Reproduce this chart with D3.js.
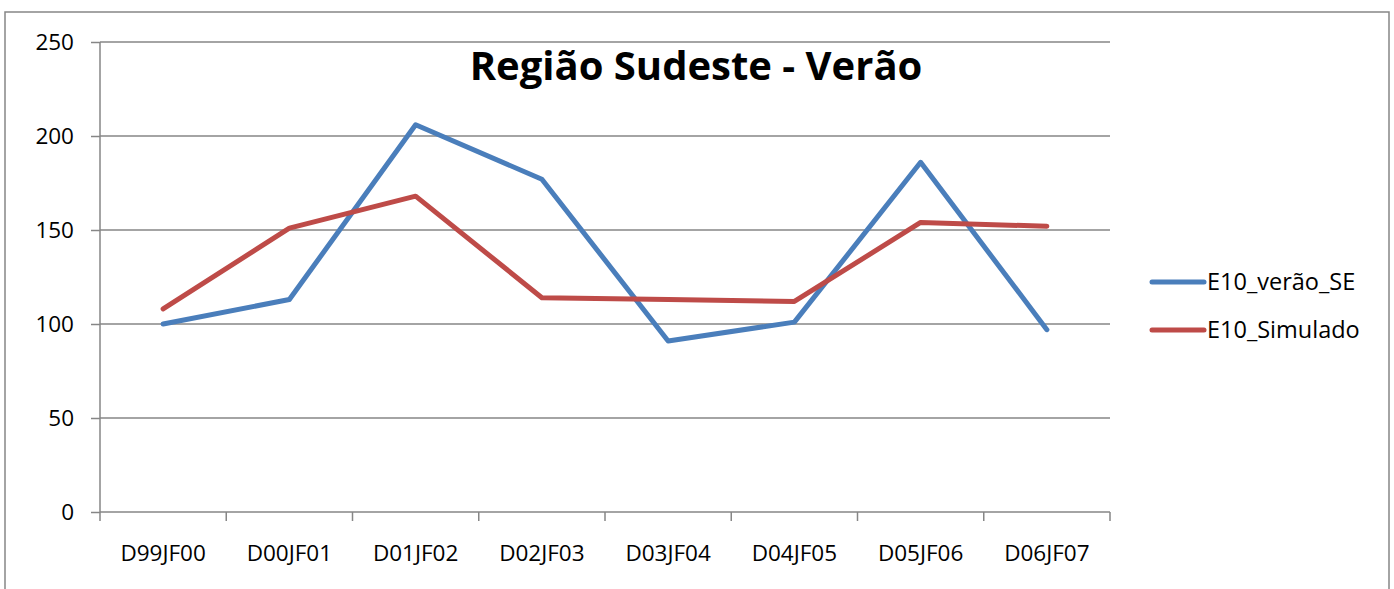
<!DOCTYPE html>
<html>
<head>
  <script src="https://d3js.org/d3.v7.min.js"></script>
  <style>
    body { margin: 0; background: #fff; font-family: "Open Sans", Arial, sans-serif; }
    .grid line { stroke: #868686; stroke-width: 1.5px; }
    .axis path, .axis line { stroke: #868686; stroke-width: 1.5px; }
    .axis text { font-size: 22.5px; font-family: "Open Sans", Arial, sans-serif; fill: #000; }
  </style>
</head>
<body>
  <svg width="1394" height="589"></svg>
  <script>
    const width = 1394, height = 589;

    const categories = ["D99JF00", "D00JF01", "D01JF02", "D02JF03", "D03JF04", "D04JF05", "D05JF06", "D06JF07"];
    const observed = [100, 113, 206, 177, 91, 101, 186, 97];
    const simulated = [108, 151, 168, 114, 113, 112, 154, 152];
    const yTicks = [0, 50, 100, 150, 200, 250];

    const series = [
      { name: "E10_verão_SE", values: observed, color: "#4a7ebb" },
      { name: "E10_Simulado", values: simulated, color: "#be4b48" }
    ];

    const margin = { left: 100, right: 284, top: 42, bottom: 77 };

    const svg = d3.select("svg")
      .attr("width", width)
      .attr("height", height);

    // outer chart border
    svg.append("rect")
      .attr("x", 5).attr("y", 12)
      .attr("width", 1384).attr("height", 590)
      .attr("fill", "none")
      .attr("stroke", "#868686")
      .attr("stroke-width", 1.5);

    const x = d3.scaleBand()
      .domain(categories)
      .range([margin.left, width - margin.right]);

    const y = d3.scaleLinear()
      .domain([0, 250])
      .range([height - margin.bottom, margin.top]);

    // gridlines
    svg.append("g")
      .attr("class", "grid")
      .selectAll("line")
      .data(yTicks.filter(d => d > 0))
      .enter().append("line")
      .attr("x1", margin.left)
      .attr("x2", width - margin.right)
      .attr("y1", d => y(d))
      .attr("y2", d => y(d));

    // y axis
    const yAxis = svg.append("g")
      .attr("class", "axis")
      .attr("transform", `translate(${margin.left},0)`)
      .call(d3.axisLeft(y).tickValues(yTicks).tickSize(9).tickPadding(17).tickSizeOuter(0));
    yAxis.attr("font-size", null).attr("font-family", null);
    yAxis.select(".domain").attr("d", `M0,${y(0)}V${y(250)}`);

    // x axis with ticks at band boundaries
    const xAxisG = svg.append("g")
      .attr("class", "axis")
      .attr("transform", `translate(0,${y(0)})`);
    xAxisG.append("line")
      .attr("x1", margin.left).attr("x2", width - margin.right)
      .attr("y1", 0).attr("y2", 0);
    const bounds = categories.map(c => x(c)).concat([width - margin.right]);
    xAxisG.selectAll(".tk")
      .data(bounds)
      .enter().append("line")
      .attr("class", "tk")
      .attr("x1", d => d).attr("x2", d => d)
      .attr("y1", 0).attr("y2", 9);
    xAxisG.selectAll("text")
      .data(categories)
      .enter().append("text")
      .attr("x", d => x(d) + x.bandwidth() / 2)
      .attr("y", 49)
      .attr("text-anchor", "middle")
      .text(d => d);

    // lines
    const line = d3.line()
      .x((d, i) => x(categories[i]) + x.bandwidth() / 2)
      .y(d => y(d));

    svg.selectAll(".series")
      .data(series)
      .enter().append("path")
      .attr("class", "series")
      .attr("fill", "none")
      .attr("stroke", d => d.color)
      .attr("stroke-width", 5)
      .attr("stroke-linejoin", "round")
      .attr("stroke-linecap", "round")
      .attr("d", d => line(d.values));

    // title
    svg.append("text")
      .attr("x", 696)
      .attr("y", 80)
      .attr("text-anchor", "middle")
      .attr("font-size", 40)
      .attr("font-weight", "bold")
      .text("Região Sudeste - Verão");

    // legend
    const legend = svg.selectAll(".legend")
      .data(series)
      .enter().append("g")
      .attr("class", "legend")
      .attr("transform", (d, i) => `translate(1152,${282 + i * 48})`);
    legend.append("line")
      .attr("x1", 0).attr("x2", 52)
      .attr("stroke", d => d.color)
      .attr("stroke-width", 5)
      .attr("stroke-linecap", "round");
    legend.append("text")
      .attr("x", 55)
      .attr("dy", "0.35em")
      .attr("font-size", 23.5)
      .text(d => d.name);
  </script>
</body>
</html>
